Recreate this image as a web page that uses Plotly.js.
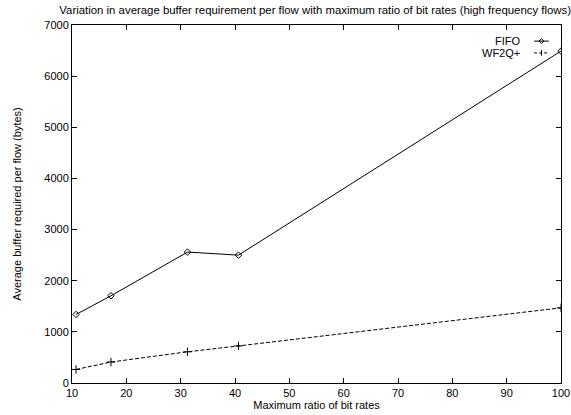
<!DOCTYPE html>
<html>
<head>
<meta charset="utf-8">
<script src="https://cdn.plot.ly/plotly-3.0.1.min.js"></script>
<style>html,body{margin:0;padding:0;background:#fff;}#chart{width:571px;height:415px;}</style>
</head>
<body>
<div id="chart"></div>
<script>
const ratio = [10.74, 17.17, 31.26, 40.64, 100];
const fifo = [1340, 1705, 2560, 2500, 6490];
const wf2q = [265, 410, 610, 725, 1470];
const seriesNames = ['FIFO', 'WF2Q+'];
const xTicks = [10, 20, 30, 40, 50, 60, 70, 80, 90, 100];
const yTicks = [0, 1000, 2000, 3000, 4000, 5000, 6000, 7000];

const FONT = 'Liberation Sans, Arial, sans-serif';

const traces = [
  {x: ratio, y: fifo, name: seriesNames[0], mode: 'lines+markers',
   line: {color: '#000', width: 1}, marker: {symbol: 'diamond-open', size: 5, color: '#000', line: {width: 1}}},
  {x: ratio, y: wf2q, name: seriesNames[1], mode: 'lines+markers',
   line: {color: '#000', width: 1, dash: '4px,2px'}, marker: {symbol: 'cross-thin-open', size: 6, color: '#000', line: {width: 1, color: '#000'}}}
];

const axisCommon = {
  showgrid: false, zeroline: false, showline: true, linecolor: '#000', linewidth: 1,
  mirror: 'ticks', ticks: 'inside', ticklen: 5, tickcolor: '#000', tickwidth: 1,
  tickfont: {family: FONT, size: 11, color: '#000'}
};

const legendY = [0.955, 0.922];
const shapes = [];
const annotations = [];
seriesNames.forEach((n, i) => {
  annotations.push({xref: 'paper', yref: 'paper', x: 0.92, y: legendY[i], xanchor: 'right', yanchor: 'middle',
    text: n, showarrow: false, font: {family: FONT, size: 11, color: '#000'}});
  shapes.push({type: 'line', xref: 'paper', yref: 'paper', x0: 0.945, x1: 0.975, y0: legendY[i], y1: legendY[i],
    line: {color: '#000', width: 1, dash: i === 0 ? 'solid' : '3px,2px'}});
});
// legend marker glyphs
shapes.push({type: 'path', xref: 'paper', yref: 'paper',
  path: 'M0.96,0.9615 L0.965,0.955 L0.96,0.9485 L0.955,0.955 Z', line: {color: '#000', width: 1}});
shapes.push({type: 'line', xref: 'paper', yref: 'paper', x0: 0.96, x1: 0.96, y0: 0.914, y1: 0.930, line: {color: '#000', width: 1}});

const layout = {
  width: 571, height: 415,
  margin: {l: 72, r: 10, t: 25, b: 32},
  paper_bgcolor: '#fff', plot_bgcolor: '#fff',
  showlegend: false,
  font: {family: FONT, size: 11, color: '#000'},
  title: {text: 'Variation in average buffer requirement per flow with maximum ratio of bit rates (high frequency flows)',
          font: {family: FONT, size: 11.4, color: '#000'}, x: 0.552, xanchor: 'center', y: 0.985, yanchor: 'top'},
  xaxis: Object.assign({}, axisCommon, {range: [10, 100], tickvals: xTicks, ticktext: xTicks.map(String),
    title: {text: 'Maximum ratio of bit rates', font: {family: FONT, size: 11, color: '#000'}, standoff: 2}}),
  yaxis: Object.assign({}, axisCommon, {range: [0, 7000], tickvals: yTicks, ticktext: yTicks.map(String),
    title: {text: 'Average buffer required per flow (bytes)', font: {family: FONT, size: 11, color: '#000'}, standoff: 20}}),
  shapes: shapes, annotations: annotations
};

Plotly.newPlot('chart', traces, layout, {displayModeBar: false, staticPlot: true});
</script>
</body>
</html>
